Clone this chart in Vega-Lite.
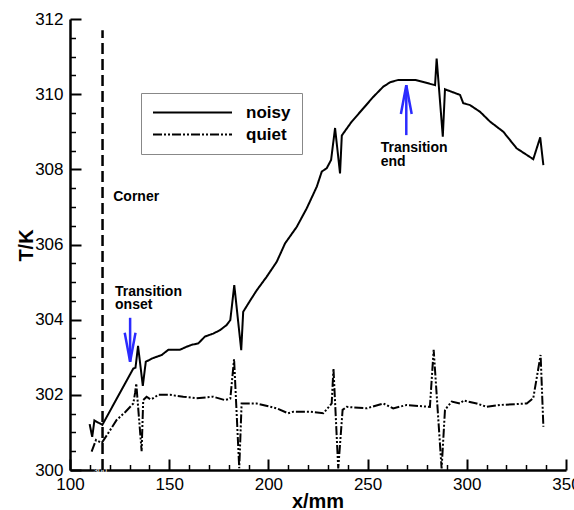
{
  "$schema": "https://vega.github.io/schema/vega-lite/v6.json",
  "width": 496,
  "height": 451,
  "autosize": "none",
  "padding": {"left": 70, "top": 19, "right": 8, "bottom": 40},
  "background": "white",
  "config": {
    "view": {"stroke": null},
    "font": "Liberation Sans",
    "axis": {
      "domainColor": "black",
      "domainWidth": 2.5,
      "labelColor": "black",
      "labelFont": "Liberation Sans",
      "labelFontSize": 17,
      "labelOverlap": false,
      "labelFlush": false,
      "grid": false,
      "titleColor": "black",
      "titleFont": "Liberation Sans",
      "titleFontSize": 20,
      "titleFontWeight": "bold"
    }
  },
  "resolve": {"axis": {"x": "independent", "y": "independent"}},
  "datasets": {
    "curves": [
      {"s": "noisy", "x": 109.9, "y": 301.22},
      {"s": "noisy", "x": 111.2, "y": 300.88},
      {"s": "noisy", "x": 112.3, "y": 301.32},
      {"s": "noisy", "x": 116.3, "y": 301.2},
      {"s": "noisy", "x": 131.9, "y": 302.7},
      {"s": "noisy", "x": 133.0, "y": 302.72},
      {"s": "noisy", "x": 134.3, "y": 303.3},
      {"s": "noisy", "x": 136.7, "y": 302.24},
      {"s": "noisy", "x": 138.2, "y": 302.88},
      {"s": "noisy", "x": 141.5, "y": 302.97},
      {"s": "noisy", "x": 146.2, "y": 303.06},
      {"s": "noisy", "x": 149.6, "y": 303.2},
      {"s": "noisy", "x": 155.4, "y": 303.2},
      {"s": "noisy", "x": 158.8, "y": 303.28},
      {"s": "noisy", "x": 161.3, "y": 303.33},
      {"s": "noisy", "x": 164.7, "y": 303.37},
      {"s": "noisy", "x": 168.0, "y": 303.55},
      {"s": "noisy", "x": 172.2, "y": 303.63},
      {"s": "noisy", "x": 175.6, "y": 303.72},
      {"s": "noisy", "x": 179.0, "y": 303.86},
      {"s": "noisy", "x": 180.8, "y": 303.99},
      {"s": "noisy", "x": 182.8, "y": 304.92},
      {"s": "noisy", "x": 186.3, "y": 303.19},
      {"s": "noisy", "x": 187.3, "y": 304.21},
      {"s": "noisy", "x": 190.7, "y": 304.5},
      {"s": "noisy", "x": 194.1, "y": 304.78},
      {"s": "noisy", "x": 199.1, "y": 305.14},
      {"s": "noisy", "x": 204.2, "y": 305.54},
      {"s": "noisy", "x": 208.4, "y": 306.03},
      {"s": "noisy", "x": 214.3, "y": 306.47},
      {"s": "noisy", "x": 219.3, "y": 306.96},
      {"s": "noisy", "x": 224.4, "y": 307.54},
      {"s": "noisy", "x": 226.9, "y": 307.94},
      {"s": "noisy", "x": 229.4, "y": 308.03},
      {"s": "noisy", "x": 231.6, "y": 308.25},
      {"s": "noisy", "x": 233.6, "y": 309.1},
      {"s": "noisy", "x": 236.1, "y": 307.89},
      {"s": "noisy", "x": 237.0, "y": 308.9},
      {"s": "noisy", "x": 242.0, "y": 309.27},
      {"s": "noisy", "x": 247.8, "y": 309.62},
      {"s": "noisy", "x": 252.9, "y": 309.93},
      {"s": "noisy", "x": 257.9, "y": 310.2},
      {"s": "noisy", "x": 261.5, "y": 310.32},
      {"s": "noisy", "x": 265.5, "y": 310.38},
      {"s": "noisy", "x": 273.9, "y": 310.38},
      {"s": "noisy", "x": 284.0, "y": 310.24},
      {"s": "noisy", "x": 284.8, "y": 310.95},
      {"s": "noisy", "x": 287.9, "y": 308.87},
      {"s": "noisy", "x": 289.0, "y": 310.13},
      {"s": "noisy", "x": 296.6, "y": 309.98},
      {"s": "noisy", "x": 298.2, "y": 309.76},
      {"s": "noisy", "x": 301.6, "y": 309.71},
      {"s": "noisy", "x": 306.7, "y": 309.53},
      {"s": "noisy", "x": 311.7, "y": 309.27},
      {"s": "noisy", "x": 318.4, "y": 309.0},
      {"s": "noisy", "x": 325.1, "y": 308.56},
      {"s": "noisy", "x": 333.5, "y": 308.27},
      {"s": "noisy", "x": 337.0, "y": 308.85},
      {"s": "noisy", "x": 338.6, "y": 308.11},
      {"s": "quiet", "x": 110.9, "y": 300.49},
      {"s": "quiet", "x": 113.1, "y": 300.8},
      {"s": "quiet", "x": 116.0, "y": 300.72},
      {"s": "quiet", "x": 119.5, "y": 301.0},
      {"s": "quiet", "x": 123.5, "y": 301.33},
      {"s": "quiet", "x": 128.0, "y": 301.55},
      {"s": "quiet", "x": 131.9, "y": 301.77},
      {"s": "quiet", "x": 132.8, "y": 302.05},
      {"s": "quiet", "x": 133.4, "y": 302.3},
      {"s": "quiet", "x": 136.1, "y": 300.5},
      {"s": "quiet", "x": 136.9, "y": 301.86},
      {"s": "quiet", "x": 138.6, "y": 301.95},
      {"s": "quiet", "x": 140.5, "y": 301.88},
      {"s": "quiet", "x": 142.0, "y": 301.91},
      {"s": "quiet", "x": 144.5, "y": 302.0},
      {"s": "quiet", "x": 150.4, "y": 302.0},
      {"s": "quiet", "x": 157.1, "y": 301.95},
      {"s": "quiet", "x": 163.8, "y": 301.91},
      {"s": "quiet", "x": 172.2, "y": 301.95},
      {"s": "quiet", "x": 178.1, "y": 301.86},
      {"s": "quiet", "x": 180.8, "y": 301.9},
      {"s": "quiet", "x": 182.7, "y": 302.95},
      {"s": "quiet", "x": 185.3, "y": 300.05},
      {"s": "quiet", "x": 186.5, "y": 301.77},
      {"s": "quiet", "x": 194.1, "y": 301.77},
      {"s": "quiet", "x": 204.2, "y": 301.64},
      {"s": "quiet", "x": 209.9, "y": 301.51},
      {"s": "quiet", "x": 212.5, "y": 301.55},
      {"s": "quiet", "x": 220.9, "y": 301.55},
      {"s": "quiet", "x": 227.7, "y": 301.51},
      {"s": "quiet", "x": 231.9, "y": 301.77},
      {"s": "quiet", "x": 232.8, "y": 302.7},
      {"s": "quiet", "x": 235.2, "y": 300.04},
      {"s": "quiet", "x": 237.4, "y": 301.6},
      {"s": "quiet", "x": 239.4, "y": 301.68},
      {"s": "quiet", "x": 249.5, "y": 301.64},
      {"s": "quiet", "x": 257.9, "y": 301.77},
      {"s": "quiet", "x": 262.9, "y": 301.64},
      {"s": "quiet", "x": 269.7, "y": 301.73},
      {"s": "quiet", "x": 281.4, "y": 301.68},
      {"s": "quiet", "x": 283.3, "y": 303.2},
      {"s": "quiet", "x": 287.3, "y": 300.04},
      {"s": "quiet", "x": 289.0, "y": 301.6},
      {"s": "quiet", "x": 292.4, "y": 301.82},
      {"s": "quiet", "x": 296.6, "y": 301.77},
      {"s": "quiet", "x": 298.5, "y": 301.85},
      {"s": "quiet", "x": 300.8, "y": 301.82},
      {"s": "quiet", "x": 305.0, "y": 301.77},
      {"s": "quiet", "x": 310.0, "y": 301.68},
      {"s": "quiet", "x": 316.7, "y": 301.73},
      {"s": "quiet", "x": 330.2, "y": 301.77},
      {"s": "quiet", "x": 333.5, "y": 301.91},
      {"s": "quiet", "x": 337.2, "y": 303.06},
      {"s": "quiet", "x": 338.6, "y": 301.15}
    ],
    "corner": [{"x": 116.4, "y": 300, "y2": 311.7}],
    "notes": [
      {"x": 121.8, "y": 307.15, "label": "Corner"},
      {"x": 122.7, "y": 304.64, "label": "Transition\nonset"},
      {"x": 256.6, "y": 308.45, "label": "Transition\nend"}
    ],
    "arrows": [
      {"x": 130.3, "tail": 304.05, "tip": 302.88, "dir": "down"},
      {"x": 269.5, "tail": 308.91, "tip": 310.24, "dir": "up"}
    ]
  },
  "layer": [
    {
      "data": {"name": "curves"},
      "mark": {"type": "line", "color": "black", "strokeWidth": 2},
      "encoding": {
        "x": {
          "field": "x", "type": "quantitative", "title": "x/mm",
          "scale": {"domain": [100, 350], "nice": false, "zero": false},
          "axis": {
            "orient": "bottom",
            "values": [100, 150, 200, 250, 300, 350],
            "ticks": false,
            "tickSize": 0,
            "labelPadding": 6,
            "titleX": 247.5,
            "titleY": 37,
            "titleBaseline": "alphabetic"
          }
        },
        "y": {
          "field": "y", "type": "quantitative", "title": "T/K",
          "scale": {"domain": [300, 312], "nice": false, "zero": false},
          "axis": {
            "orient": "left",
            "values": [300, 302, 304, 306, 308, 310, 312],
            "ticks": false,
            "tickSize": 0,
            "labelPadding": 7,
            "titleAngle": -90,
            "titleX": -38,
            "titleY": 226,
            "titleAlign": "center",
            "titleBaseline": "alphabetic"
          }
        },
        "strokeDash": {
          "field": "s", "type": "nominal",
          "scale": {"domain": ["noisy", "quiet"], "range": [[1, 0], [9, 2, 2, 2, 2, 2]]},
          "legend": {
            "orient": "none",
            "legendX": 71,
            "legendY": 74,
            "title": null,
            "symbolType": "stroke",
            "symbolSize": 6241,
            "symbolStrokeWidth": 2,
            "symbolStrokeColor": "black",
            "labelFont": "Liberation Sans",
            "labelFontSize": 17,
            "labelFontWeight": "bold",
            "labelColor": "black",
            "labelOffset": 13,
            "padding": 11,
            "strokeColor": "#888888",
            "fillColor": "white",
            "clipHeight": 17,
            "rowPadding": 4
          }
        }
      }
    },
    {
      "data": {"name": "corner"},
      "mark": {"type": "rule", "color": "black", "strokeWidth": 2.5, "strokeDash": [11, 5]},
      "encoding": {
        "x": {
          "field": "x", "type": "quantitative",
          "axis": {
            "orient": "top",
            "offset": -451,
            "values": [100, 150, 200, 250, 300, 350],
            "ticks": true,
            "tickSize": 11,
            "tickWidth": 2,
            "tickColor": "black",
            "tickOpacity": 1,
            "labels": true,
            "labelColor": "white",
            "labelFontSize": 8,
            "labelPadding": 12,
            "domain": false,
            "title": null
          }
        },
        "y": {
          "field": "y", "type": "quantitative",
          "axis": {
            "orient": "right",
            "offset": -496,
            "values": [300, 302, 304, 306, 308, 310, 312],
            "ticks": true,
            "tickSize": 11,
            "tickWidth": 2,
            "tickColor": "black",
            "tickOpacity": 1,
            "labels": true,
            "labelColor": "white",
            "labelFontSize": 8,
            "labelPadding": 12,
            "domain": false,
            "title": null
          }
        },
        "y2": {"field": "y2"}
      }
    },
    {
      "data": {"name": "notes"},
      "mark": {"type": "text", "align": "left", "baseline": "alphabetic", "font": "Liberation Sans", "fontSize": 14, "fontWeight": "bold", "color": "black", "lineBreak": "\n", "lineHeight": 13.5},
      "encoding": {
        "x": {
          "field": "x", "type": "quantitative",
          "axis": {
            "orient": "top",
            "offset": -451,
            "values": [110,120,130,140,160,170,180,190,210,220,230,240,260,270,280,290,310,320,330,340],
            "ticks": true,
            "tickSize": 5.5,
            "tickWidth": 1.5,
            "tickColor": "black",
            "tickOpacity": 1,
            "labels": true,
            "labelColor": "white",
            "labelFontSize": 1,
            "labelPadding": 2,
            "domain": false,
            "title": null
          }
        },
        "y": {
          "field": "y", "type": "quantitative",
          "axis": {
            "orient": "right",
            "offset": -496,
            "values": [300.5,301,301.5,302.5,303,303.5,304.5,305,305.5,306.5,307,307.5,308.5,309,309.5,310.5,311,311.5],
            "ticks": true,
            "tickSize": 5.5,
            "tickWidth": 1.5,
            "tickColor": "black",
            "tickOpacity": 1,
            "labels": true,
            "labelColor": "white",
            "labelFontSize": 1,
            "labelPadding": 2,
            "domain": false,
            "title": null
          }
        },
        "text": {"field": "label"}
      }
    },
    {
      "data": {"name": "arrows"},
      "mark": {"type": "rule", "color": "#2b2bff", "strokeWidth": 2.5},
      "encoding": {
        "x": {"field": "x", "type": "quantitative", "axis": null},
        "y": {"field": "tail", "type": "quantitative", "axis": null},
        "y2": {"field": "tip"}
      }
    },
    {
      "data": {"name": "arrows"},
      "transform": [{"filter": "datum.dir === 'down'"}],
      "mark": {"type": "point", "shape": "M-0.36,-1.93L0,0L0.36,-1.93", "filled": false, "color": "#2b2bff", "strokeWidth": 2.5, "size": 900, "opacity": 1},
      "encoding": {
        "x": {"field": "x", "type": "quantitative", "axis": null},
        "y": {"field": "tip", "type": "quantitative", "axis": null}
      }
    },
    {
      "data": {"name": "arrows"},
      "transform": [{"filter": "datum.dir === 'up'"}],
      "mark": {"type": "point", "shape": "M-0.36,1.93L0,0L0.36,1.93", "filled": false, "color": "#2b2bff", "strokeWidth": 2.5, "size": 900, "opacity": 1},
      "encoding": {
        "x": {"field": "x", "type": "quantitative", "axis": null},
        "y": {"field": "tip", "type": "quantitative", "axis": null}
      }
    }
  ]
}
